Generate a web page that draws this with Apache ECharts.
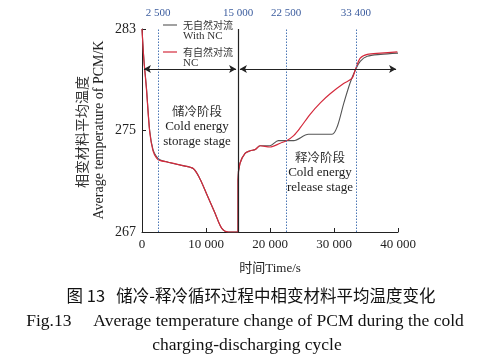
<!DOCTYPE html>
<html><head><meta charset="utf-8">
<script src="https://cdn.jsdelivr.net/npm/echarts@6/dist/echarts.min.js"></script>
<style>html,body{margin:0;padding:0;background:#fff}#c{width:492px;height:358px}</style>
</head><body><div id="c"></div>
<script>
// ---- data ----
var timeNoNC = [0, 300, 690, 1200, 1720, 2260, 2780, 4080, 6180, 8000, 9040, 10100, 11400, 12450, 13480, 15000,
  15000, 15300, 16100, 16900, 17700, 18450, 20000, 21300, 23700, 26000, 29700, 30500, 31500, 32550, 33340, 34100, 35200, 37260, 40000];
var tempNoNC = [283, 280.6, 278.4, 275.0, 273.5, 272.95, 272.7, 272.5, 272.25, 272.0, 271.2, 270.0, 268.5, 267.3, 267.0, 267.0,
  271.1, 272.4, 273.2, 273.4, 273.5, 273.8, 273.8, 274.2, 274.2, 274.7, 274.7, 275.3, 277.1, 278.8, 279.76, 280.45, 280.85, 281.0, 281.1];
var timeNC = [0, 300, 690, 1200, 1720, 2260, 2780, 4080, 6180, 8000, 9040, 10100, 11400, 12450, 13480, 15000,
  15000, 15300, 16100, 16900, 17700, 18450, 20000, 21600, 22600, 23700, 24700, 26300, 27900, 29400, 31500, 32800, 33340, 34100, 35200, 37260, 39900];
var tempNC = [283, 280.5, 278.3, 274.9, 273.4, 272.85, 272.65, 272.5, 272.25, 272.0, 271.2, 270.0, 268.5, 267.3, 267.0, 267.0,
  271.1, 272.4, 273.2, 273.4, 273.5, 273.8, 273.7, 274.0, 274.2, 274.6, 275.2, 276.3, 277.2, 277.9, 278.7, 279.1, 279.8, 280.7, 281.0, 281.1, 281.2];
var markTimes = [2500, 22500, 33400];
var splitTime = 15000;
var arrowTemp = 279.84;
var xTicks = ['0', '10 000', '20 000', '30 000', '40 000'];
var seriesNames = ['无自然对流', '有自然对流'];

function pairs(t, v) { return t.map(function (x, i) { return [x, v[i]]; }); }
function fmtNum(n) { var s = String(n); return s.length > 3 ? s.slice(0, s.length - 3) + ' ' + s.slice(-3) : s; }

var serif = '"Liberation Serif","Noto Sans CJK SC",serif';
var blue = '#3b5c9e';
var chart = echarts.init(document.getElementById('c'), null, {renderer: 'canvas'});

var vLines = markTimes.map(function (t) {
  return {xAxis: t, lineStyle: {type: [1.5, 1.5], color: '#4a76b5', width: 1}};
});
vLines.push({xAxis: splitTime, lineStyle: {type: 'solid', color: '#222', width: 1.2}});

chart.setOption({
  animation: false,
  grid: {left: 142, right: 94, top: 29, bottom: 126},
  xAxis: {
    type: 'value', min: 0, max: 40000, interval: 10000,
    axisLine: {lineStyle: {color: '#222', width: 1}},
    axisTick: {inside: true, length: 4, lineStyle: {color: '#222'}},
    axisLabel: {fontFamily: serif, fontSize: 13, color: '#222', margin: 6,
      formatter: function (v) { return xTicks[v / 10000]; }},
    splitLine: {show: false},
    name: '时间Time/s', nameLocation: 'middle', nameGap: 30,
    nameTextStyle: {fontFamily: serif, fontSize: 13, color: '#222'}
  },
  yAxis: {
    type: 'value', min: 267, max: 283, interval: 8,
    axisLine: {show: true, lineStyle: {color: '#222', width: 1}},
    axisTick: {show: true, inside: true, length: 4, lineStyle: {color: '#222'}},
    axisLabel: {fontFamily: serif, fontSize: 14, color: '#222', margin: 6},
    splitLine: {show: false}
  },
  series: [
    {
      name: seriesNames[0], type: 'line', data: pairs(timeNoNC, tempNoNC),
      symbol: 'none', smooth: 0.3, lineStyle: {color: '#555', width: 1.1}, z: 3,
      markLine: {
        silent: true, symbol: 'none', animation: false,
        label: {show: true, position: 'end', distance: 10, fontFamily: serif, fontSize: 11, color: blue,
          formatter: function (p) { return fmtNum(p.value); }},
        data: vLines
      }
    },
    {
      name: seriesNames[1], type: 'line', data: pairs(timeNC, tempNC),
      symbol: 'none', smooth: 0.3, lineStyle: {color: '#d42a3c', width: 1.2}, z: 4,
      markLine: {
        silent: true, animation: false, symbolSize: [6, 7],
        label: {show: false},
        lineStyle: {type: 'solid', color: '#222', width: 1.1},
        data: [
          [{coord: [300, arrowTemp], symbol: 'arrow'}, {coord: [14700, arrowTemp], symbol: 'arrow'}],
          [{coord: [15300, arrowTemp], symbol: 'arrow'}, {coord: [39700, arrowTemp], symbol: 'arrow'}]
        ]
      }
    }
  ],
  graphic: [
    // y axis title
    {type: 'text', x: 82, y: 132, rotation: Math.PI / 2,
      style: {text: '相变材料平均温度', font: '14px "Noto Sans CJK SC"', fill: '#333', align: 'center', verticalAlign: 'middle'}},
    {type: 'text', x: 99, y: 130, rotation: Math.PI / 2,
      style: {text: 'Average temperature of PCM/K', font: '14px ' + serif, fill: '#222', align: 'center', verticalAlign: 'middle'}},
    // legend
    {type: 'line', shape: {x1: 163, y1: 25, x2: 177, y2: 25}, style: {stroke: '#555', lineWidth: 1.1}},
    {type: 'text', x: 183, y: 25, style: {text: seriesNames[0], font: '10px "Noto Sans CJK SC"', fill: '#333', verticalAlign: 'middle'}},
    {type: 'text', x: 183, y: 36, style: {text: 'With NC', font: '11px ' + serif, fill: '#333', verticalAlign: 'middle'}},
    {type: 'line', shape: {x1: 163, y1: 52, x2: 177, y2: 52}, style: {stroke: '#d42a3c', lineWidth: 1.2}},
    {type: 'text', x: 183, y: 52, style: {text: seriesNames[1], font: '10px "Noto Sans CJK SC"', fill: '#333', verticalAlign: 'middle'}},
    {type: 'text', x: 183, y: 63, style: {text: 'NC', font: '11px ' + serif, fill: '#333', verticalAlign: 'middle'}},
    // stage labels
    {type: 'text', x: 197, y: 111, style: {text: '储冷阶段', font: '12.5px "Noto Sans CJK SC"', fill: '#333', align: 'center', verticalAlign: 'middle'}},
    {type: 'text', x: 197, y: 127, style: {text: 'Cold energy', font: '13px ' + serif, fill: '#222', align: 'center', verticalAlign: 'middle'}},
    {type: 'text', x: 197, y: 142, style: {text: 'storage stage', font: '13px ' + serif, fill: '#222', align: 'center', verticalAlign: 'middle'}},
    {type: 'text', x: 320, y: 157, style: {text: '释冷阶段', font: '12.5px "Noto Sans CJK SC"', fill: '#333', align: 'center', verticalAlign: 'middle'}},
    {type: 'text', x: 320, y: 173, style: {text: 'Cold energy', font: '13px ' + serif, fill: '#222', align: 'center', verticalAlign: 'middle'}},
    {type: 'text', x: 320, y: 188, style: {text: 'release stage', font: '13px ' + serif, fill: '#222', align: 'center', verticalAlign: 'middle'}},
    // caption
    {type: 'text', x: 251, y: 296, style: {text: '图 13   储冷-释冷循环过程中相变材料平均温度变化', font: '16.5px "Noto Sans CJK SC"', fill: '#111', align: 'center', verticalAlign: 'middle'}},
    {type: 'text', x: 245, y: 321, style: {text: 'Fig.13     Average temperature change of PCM during the cold', font: '17.5px ' + serif, fill: '#111', align: 'center', verticalAlign: 'middle'}},
    {type: 'text', x: 247, y: 345, style: {text: 'charging-discharging cycle', font: '17.5px ' + serif, fill: '#111', align: 'center', verticalAlign: 'middle'}}
  ]
});
</script></body></html>
